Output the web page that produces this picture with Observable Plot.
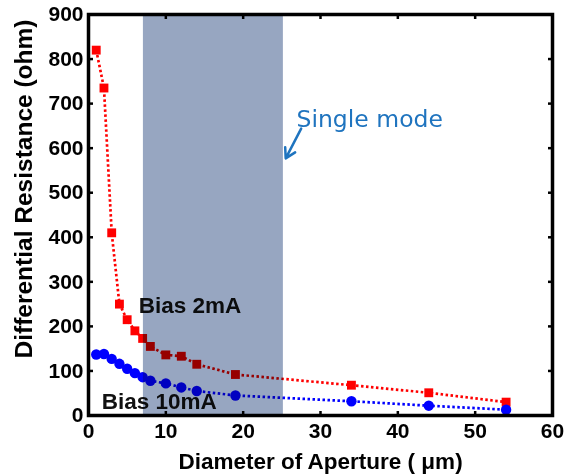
<!DOCTYPE html>
<html><head><meta charset="utf-8">
<script src="https://cdn.jsdelivr.net/npm/d3@7"></script>
<script src="https://cdn.jsdelivr.net/npm/@observablehq/plot@0.6"></script>
<style>body{margin:0;background:#fff}</style>
</head><body><div id="chart"></div>
<script>
const diameters = [1, 2, 3, 4, 5, 6, 7, 8, 10, 12, 14, 19, 34, 44, 54];
const bias2mA = [820, 735, 410, 250, 215, 190, 173, 155, 136, 133, 115, 92, 68, 51, 30];
const bias10mA = [137, 138, 127, 116, 105, 95, 86, 78, 72, 63, 55, 45, 32, 22, 13];
const xTicks = [0, 10, 20, 30, 40, 50, 60];
const yTicks = [0, 100, 200, 300, 400, 500, 600, 700, 800, 900];
const singleModeBand = [{x1: 7.1, x2: 25.2}];
const seriesLabels = [
  {x: 6.5, y: 247, text: "Bias 2mA"},
  {x: 1.7, y: 31, text: "Bias 10mA"}
];
const modeLabel = [{x: 26.9, y: 664, text: "Single mode"}];
const modeArrow = [{x1: 27.5, y1: 644, x2: 25.5, y2: 577}];
const xLabel = "Diameter of Aperture ( \u03bcm)";
const yLabel = "Differential Resistance (ohm)";

const red = diameters.map((d, i) => ({d, r: bias2mA[i]}));
const blue = diameters.map((d, i) => ({d, r: bias10mA[i]}));

const chart = Plot.plot({
  width: 565,
  height: 475,
  marginLeft: 88,
  marginRight: 13,
  marginTop: 14,
  marginBottom: 60,
  style: {fontFamily: "'Liberation Sans', Arial, sans-serif", fontWeight: "bold", fontSize: "21px", background: "white", color: "black"},
  x: {domain: [0, 60]},
  y: {domain: [0, 900]},
  marks: [
    Plot.line(red, {x: "d", y: "r", stroke: "#ff0000", strokeWidth: 2.7, strokeDasharray: "2.5,2.5", strokeLinecap: "butt"}),
    Plot.line(blue, {x: "d", y: "r", stroke: "#0000ff", strokeWidth: 2.7, strokeDasharray: "2.5,2.5", strokeLinecap: "butt"}),
    Plot.dot(red, {x: "d", y: "r", symbol: "square", r: 5, fill: "#ff0000"}),
    Plot.dot(blue, {x: "d", y: "r", symbol: "circle", r: 5.2, fill: "#0000ff"}),
    Plot.text(seriesLabels, {x: "x", y: "y", text: "text", textAnchor: "start", fontSize: 22.5, fill: "#111", fontWeight: "bold"}),
    Plot.rect(singleModeBand, {x1: "x1", x2: "x2", fill: "#97a6c1", mixBlendMode: "multiply"}),
    Plot.text(modeLabel, {x: "x", y: "y", text: "text", textAnchor: "start", fontSize: 23.5, fill: "#1f74bf", fontWeight: "normal", fontFamily: "'DejaVu Sans', sans-serif"}),
    Plot.arrow(modeArrow, {x1: "x1", y1: "y1", x2: "x2", y2: "y2", stroke: "#1f74bf", strokeWidth: 2.5, headLength: 10}),
    Plot.axisX({ticks: xTicks, tickSize: -4, tickPadding: 12, strokeWidth: 2.5, label: null}),
    Plot.axisX({anchor: "top", ticks: xTicks, tickSize: -4, strokeWidth: 2.5, tickFormat: () => "", label: null}),
    Plot.axisY({ticks: yTicks, tickSize: -5, tickPadding: 10, strokeWidth: 2.5, label: null}),
    Plot.axisY({anchor: "right", ticks: yTicks, tickSize: -5, strokeWidth: 2.5, tickFormat: () => "", label: null}),
    Plot.text([xLabel], {frameAnchor: "bottom", dy: 53, lineAnchor: "bottom", textAnchor: "middle", text: d => d, fontSize: 22.5, fontWeight: "bold"}),
    Plot.text([yLabel], {frameAnchor: "left", dx: -64, dy: -26, rotate: -90, textAnchor: "middle", text: d => d, fontSize: 24.5, fontWeight: "bold"}),
    Plot.frame({stroke: "black", strokeWidth: 3.5})
  ]
});
document.getElementById("chart").appendChild(chart);
</script>
</body></html>
